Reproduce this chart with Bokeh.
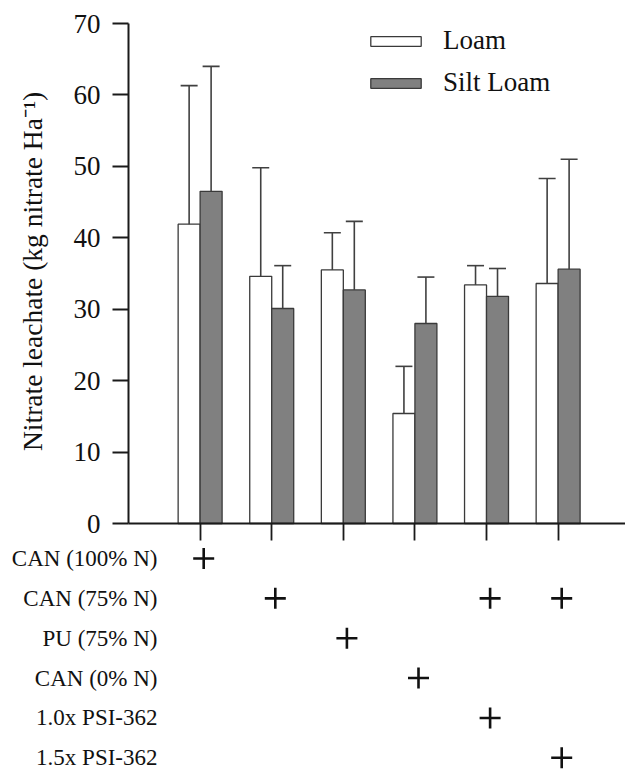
import numpy as np
from math import pi
from bokeh.plotting import figure
from bokeh.models import (ColumnDataSource, Range1d, LinearAxis, FixedTicker, Whisker,
                          TeeHead, Legend, LegendItem, Label)
from bokeh.core.properties import value
from bokeh.embed import file_html
from bokeh.resources import INLINE

# ---------------- data ----------------
treatment_idx = [1, 2, 3, 4, 5, 6]
loam_mean = [41.9, 34.6, 35.5, 15.4, 33.4, 33.6]
loam_sd = [19.4, 15.2, 5.2, 6.6, 2.7, 14.7]
silt_mean = [46.5, 30.1, 32.7, 28.0, 31.8, 35.6]
silt_sd = [17.5, 6.0, 9.6, 6.5, 3.9, 15.4]
series_names = ["Loam", "Silt Loam"]
y_ticks = [0, 10, 20, 30, 40, 50, 60, 70]
row_labels = ["CAN (100% N)", "CAN (75% N)", "PU (75% N)", "CAN (0% N)",
              "1.0x PSI-362", "1.5x PSI-362"]
# rows x treatments: 1 = "+"
plus_matrix = [
    [1, 0, 0, 0, 0, 0],
    [0, 1, 0, 0, 1, 1],
    [0, 0, 1, 0, 0, 0],
    [0, 0, 0, 1, 0, 0],
    [0, 0, 0, 0, 1, 0],
    [0, 0, 0, 0, 0, 1],
]

# ---------------- layout constants ----------------
FONT = "Liberation Serif"
BAR_W = 0.307
X0, X1 = -1.788, 6.941
Y0, Y1 = -35.28, 73.22
ROW_Y0, ROW_DY = -4.9, -5.58

x = np.array(treatment_idx, dtype=float)
src_l = ColumnDataSource(dict(x=x - BAR_W / 2, top=loam_mean,
                              up=np.array(loam_mean) + np.array(loam_sd)))
src_s = ColumnDataSource(dict(x=x + BAR_W / 2, top=silt_mean,
                              up=np.array(silt_mean) + np.array(silt_sd)))

p = figure(width=625, height=775, x_range=Range1d(X0, X1), y_range=Range1d(Y0, Y1),
           x_axis_type=None, y_axis_type=None, toolbar_location=None,
           output_backend="svg", min_border=0)
p.outline_line_color = None
p.background_fill_color = "white"

r_l = p.vbar(x="x", top="top", bottom=0, width=BAR_W, source=src_l,
             fill_color="white", line_color="#3a3a3a", line_width=1.3)
r_s = p.vbar(x="x", top="top", bottom=0, width=BAR_W, source=src_s,
             fill_color="#808080", line_color="#3a3a3a", line_width=1.3)

for src in (src_l, src_s):
    w = Whisker(base="x", upper="up", lower="top", source=src,
                upper_head=TeeHead(size=17, line_color="#404040", line_width=1.6),
                lower_head=None, line_color="#404040", line_width=1.6,
                level="annotation")
    p.add_layout(w)

# axes
yax = LinearAxis(fixed_location=0, bounds=(0, 70), ticker=FixedTicker(ticks=y_ticks),
                 major_tick_out=16, major_tick_in=0, minor_tick_out=0, minor_tick_in=0,
                 major_label_standoff=12, axis_line_width=2, axis_line_color="#1a1a1a",
                 major_tick_line_width=1.8, major_tick_line_color="#1a1a1a",
                 major_label_text_font=FONT, major_label_text_font_size="27px",
                 major_label_text_color="#111111")
p.add_layout(yax, "left")
xax = LinearAxis(fixed_location=0, bounds=(0, X1), ticker=FixedTicker(ticks=treatment_idx),
                 major_tick_out=17, major_tick_in=0, minor_tick_out=0, minor_tick_in=0,
                 axis_line_width=2, axis_line_color="#1a1a1a",
                 major_tick_line_width=1.8, major_tick_line_color="#1a1a1a",
                 major_label_text_color=None)
p.add_layout(xax, "below")

p.add_layout(Label(x=-1.34, y=35.3, text="Nitrate leachate (kg nitrate Ha\u207b\u00b9)",
                   angle=pi / 2, text_align="center", text_baseline="middle",
                   text_font=FONT, text_font_size="27.5px", text_color="#111111"))

# treatment table
row_y = [ROW_Y0 + ROW_DY * i for i in range(len(row_labels))]
p.text(x=[0.405] * len(row_labels), y=row_y, text=row_labels, text_align="right",
       text_baseline="middle", text_font=value(FONT), text_font_size="23px",
       text_color="#111111")
px, py = [], []
for i, row in enumerate(plus_matrix):
    for j, flag in enumerate(row):
        if flag:
            px.append(treatment_idx[j] + 0.05)
            py.append(row_y[i])
p.scatter(x=px, y=py, marker="cross", size=21, line_width=2.6, line_color="#111111")

legend = Legend(items=[LegendItem(label=series_names[0], renderers=[r_l]),
                       LegendItem(label=series_names[1], renderers=[r_s])],
                location=(364, 677), glyph_width=63, glyph_height=12, label_standoff=16,
                spacing=11, padding=0, margin=0, border_line_color=None,
                background_fill_alpha=0, label_text_font=FONT,
                label_text_font_size="27px", label_text_color="#111111")
p.add_layout(legend)

open("out.html", "w").write(file_html(p, INLINE))
